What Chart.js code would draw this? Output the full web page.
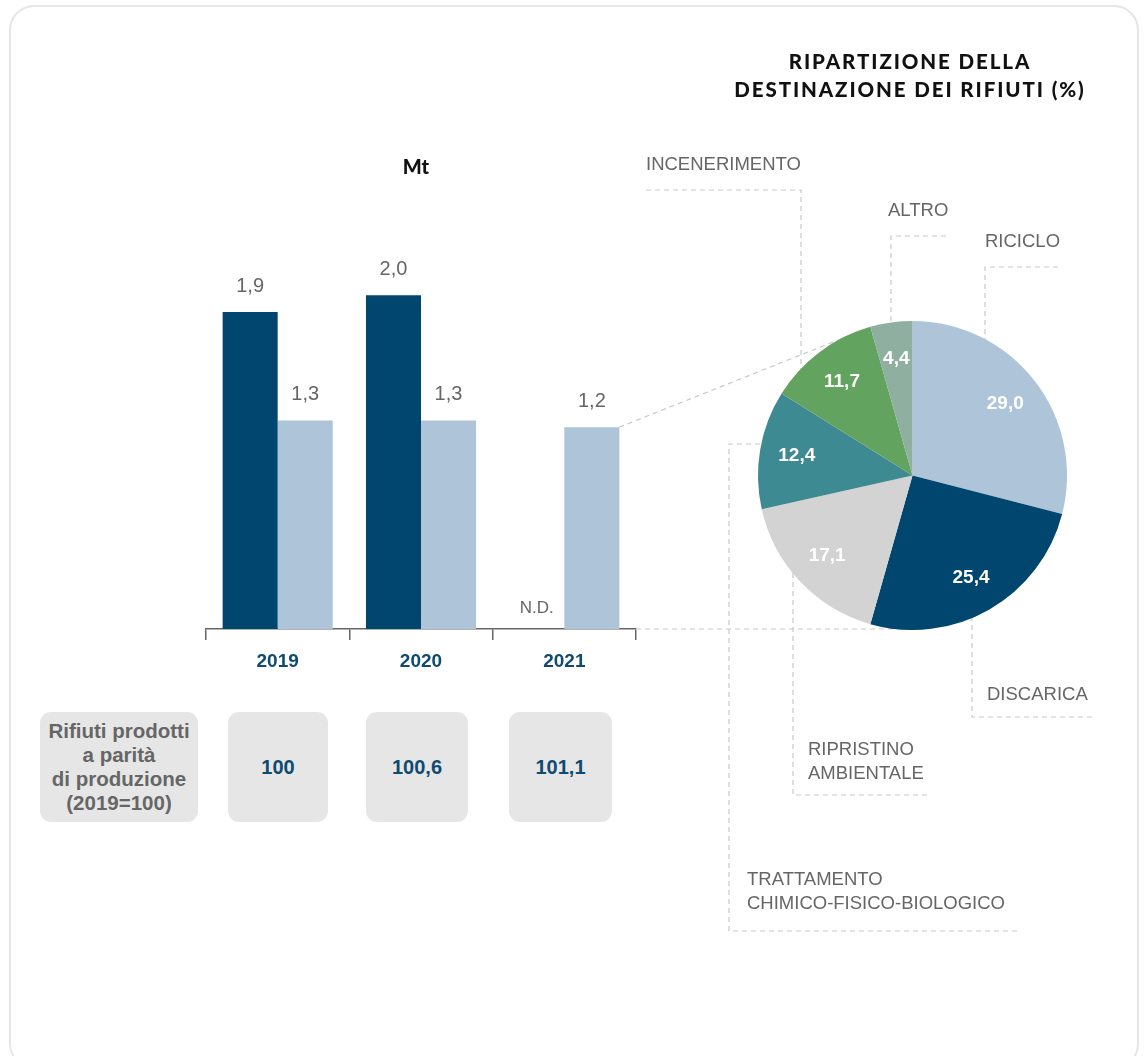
<!DOCTYPE html>
<html lang="it">
<head>
<meta charset="utf-8">
<script src="https://cdn.jsdelivr.net/npm/chart.js@4.4.1/dist/chart.umd.min.js"></script>
<style>
  html, body { margin: 0; padding: 0; background: #fff; }
  body { width: 1145px; height: 1056px; position: relative; overflow: hidden; font-family: "Liberation Sans", Arial, sans-serif; }
  .card { position: absolute; left: 9px; top: 5px; width: 1126px; height: 1060px; border: 2.5px solid #e6e6e6; border-radius: 25px; }
  canvas { position: absolute; left: 0; top: 0; }
  .title { position: absolute; left: 660px; width: 500px; top: 47px; text-align: center; font-family: Lato, sans-serif; font-weight: 900; font-size: 20.5px; line-height: 28px; color: #111; letter-spacing: 1.9px; }
  .unit { position: absolute; left: 366px; width: 100px; top: 153px; text-align: center; font-family: Lato, sans-serif; font-weight: 900; font-size: 20px; line-height: 26px; color: #111; }
  .box { position: absolute; top: 712px; height: 110px; background: #e6e6e6; border-radius: 11px; display: flex; align-items: center; justify-content: center; text-align: center; font-weight: bold; }
  .box.lbl { color: #666; font-size: 20.5px; line-height: 24px; }
  .box.val { color: #0f4a70; font-size: 20px; }
</style>
</head>
<body>
<div class="card"></div>
<canvas id="barChart" width="1145" height="1056"></canvas>
<canvas id="pieChart" width="1145" height="1056"></canvas>
<div class="title">RIPARTIZIONE DELLA<br>DESTINAZIONE DEI RIFIUTI (%)</div>
<div class="unit">Mt</div>
<div id="boxes"></div>
<script>
// bar chart data (Mt)
const years = ['2019', '2020', '2021'];
const darkValues = [1.9, 2.0, null];
const lightValues = [1.25, 1.25, 1.21];

// bottom row
const indexLabel = ['Rifiuti prodotti', 'a parità', 'di produzione', '(2019=100)'];
const indexValues = ['100', '100,6', '101,1'];

// pie data (%)
const destinations = ['RICICLO', 'DISCARICA', ['RIPRISTINO', 'AMBIENTALE'], ['TRATTAMENTO', 'CHIMICO-FISICO-BIOLOGICO'], 'INCENERIMENTO', 'ALTRO'];
const shares = [29.0, 25.4, 17.1, 12.4, 11.7, 4.4];
const pieColors = ['#aec4d9', '#00466e', '#d3d3d3', '#3e8a92', '#62a35f', '#8fb0a0'];

// where the destination labels and their dashed leaders sit
const labelLayout = [
  { x: 985, y: 242, line: [[1058, 267], [985, 267], [985, 380]] },
  { x: 987, y: 695, line: [[1092, 717], [972, 717], [972, 580]] },
  { x: 808, y: 750, line: [[927, 795], [793, 795], [793, 540]] },
  { x: 747, y: 880, line: [[1017, 931], [729, 931], [729, 444], [800, 444]] },
  { x: 646, y: 165, line: [[646, 190], [801, 190], [801, 410]] },
  { x: 888, y: 211, line: [[946, 236], [891, 236], [891, 360]] }
];

const fmt = v => v.toFixed(1).replace('.', ',');
const font = 'Liberation Sans, Arial, sans-serif';

// boxes under the bars
const boxesEl = document.getElementById('boxes');
const boxPos = [[40, 158], [228, 100], [366, 102], [509, 103]];
[indexLabel.join('<br>')].concat(indexValues).forEach((t, i) => {
  const d = document.createElement('div');
  d.className = 'box ' + (i === 0 ? 'lbl' : 'val');
  d.style.left = boxPos[i][0] + 'px';
  d.style.width = boxPos[i][1] + 'px';
  d.innerHTML = t;
  boxesEl.appendChild(d);
});

const barLabels = {
  id: 'barLabels',
  afterDatasetsDraw(chart) {
    const ctx = chart.ctx;
    const base = chart.scales.y.getPixelForValue(0);
    ctx.save();
    ctx.fillStyle = '#666';
    ctx.textAlign = 'center';
    ctx.textBaseline = 'middle';
    chart.data.datasets.forEach((ds, di) => {
      chart.getDatasetMeta(di).data.forEach((el, i) => {
        const v = ds.data[i];
        if (v == null) {
          ctx.font = '17px ' + font;
          ctx.fillText('N.D.', el.x, base - 21);
        } else {
          ctx.font = '20px ' + font;
          ctx.fillText(fmt(v), el.x, el.y - 26);
        }
      });
    });
    ctx.restore();
  }
};

const barChart = new Chart(document.getElementById('barChart'), {
  type: 'bar',
  data: {
    labels: years,
    datasets: [
      { data: darkValues, backgroundColor: '#00466e' },
      { data: lightValues, backgroundColor: '#aec4d9' }
    ]
  },
  options: {
    responsive: false,
    animation: false,
    layout: { padding: { left: 206, right: 509, top: 262, bottom: 377 } },
    datasets: { bar: { categoryPercentage: 0.768, barPercentage: 1 } },
    plugins: { legend: { display: false }, tooltip: { enabled: false } },
    scales: {
      x: {
        grid: { drawOnChartArea: false, tickLength: 11, color: '#666', lineWidth: 1.5, offset: true },
        border: { color: '#666', width: 1.5 },
        ticks: { color: '#0f4a70', padding: 10, font: { family: font, size: 19, weight: 'bold' } },
        afterFit(s) { s.height = 50; }
      },
      y: { display: false, min: 0, max: 2.2 }
    }
  },
  plugins: [barLabels]
});

const pieDecor = {
  id: 'pieDecor',
  beforeDatasetsDraw(chart) {
    const ctx = chart.ctx;
    const arc = chart.getDatasetMeta(0).data[0];
    const bar = barChart.getDatasetMeta(1).data[2];
    const area = barChart.chartArea;
    ctx.save();
    ctx.strokeStyle = '#c9c9c9';
    ctx.lineWidth = 1.2;
    ctx.setLineDash([5, 4]);
    // link 2021 bar to the pie
    ctx.beginPath();
    ctx.moveTo(bar.x + bar.width / 2, bar.y);
    ctx.lineTo(arc.x - 48, arc.y - 146);
    ctx.moveTo(area.right, area.bottom);
    ctx.lineTo(arc.x, area.bottom);
    ctx.stroke();
    labelLayout.forEach(l => {
      ctx.beginPath();
      l.line.forEach((p, i) => i ? ctx.lineTo(p[0], p[1]) : ctx.moveTo(p[0], p[1]));
      ctx.stroke();
    });
    ctx.setLineDash([]);
    ctx.fillStyle = '#666';
    ctx.font = '18.5px ' + font;
    ctx.textAlign = 'left';
    ctx.textBaseline = 'middle';
    chart.data.labels.forEach((lab, i) => {
      [].concat(lab).forEach((t, j) => ctx.fillText(t, labelLayout[i].x, labelLayout[i].y + j * 24));
    });
    ctx.restore();
  },
  afterDatasetsDraw(chart) {
    const ctx = chart.ctx;
    ctx.save();
    ctx.fillStyle = '#fff';
    ctx.font = 'bold 19px ' + font;
    ctx.textAlign = 'center';
    ctx.textBaseline = 'middle';
    chart.getDatasetMeta(0).data.forEach((a, i) => {
      const mid = (a.startAngle + a.endAngle) / 2;
      const r = a.outerRadius * 0.76;
      ctx.fillText(fmt(shares[i]), a.x + Math.cos(mid) * r, a.y + Math.sin(mid) * r);
    });
    ctx.restore();
  }
};

new Chart(document.getElementById('pieChart'), {
  type: 'pie',
  data: {
    labels: destinations,
    datasets: [{ data: shares, backgroundColor: pieColors, borderWidth: 0 }]
  },
  options: {
    responsive: false,
    animation: false,
    layout: { padding: { left: 758, right: 78, top: 321, bottom: 426 } },
    plugins: { legend: { display: false }, tooltip: { enabled: false } }
  },
  plugins: [pieDecor]
});
</script>
</body>
</html>
